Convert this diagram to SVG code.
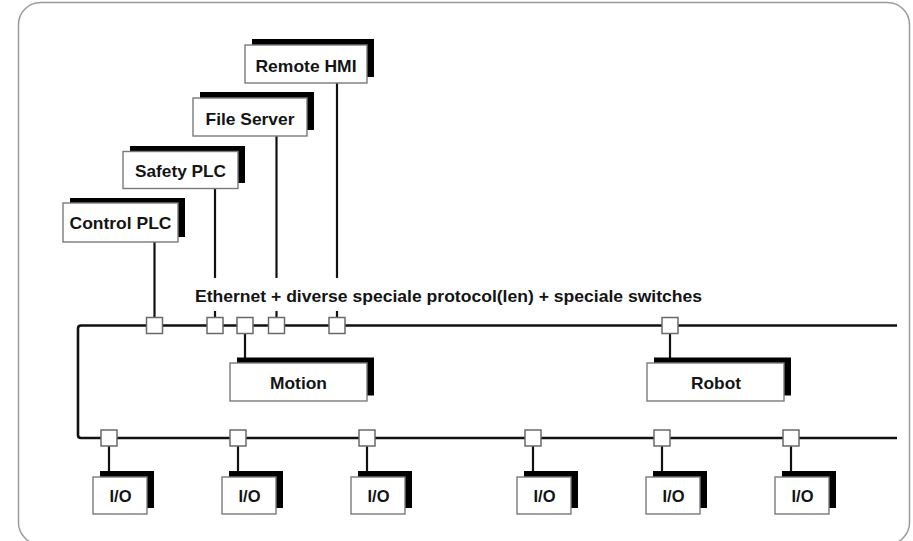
<svg xmlns="http://www.w3.org/2000/svg" width="913" height="541" viewBox="0 0 913 541">
  <style>
    .frame { fill: #ffffff; stroke: #9a9a9a; stroke-width: 1.5; }
    .bus { fill: none; stroke: #111111; stroke-width: 2.6; }
    .link { fill: none; stroke: #111111; stroke-width: 2.2; }
    .sw { fill: #ffffff; stroke: #6a6a6a; stroke-width: 1.5; }
    .shadow { fill: #000000; }
    .box { fill: #ffffff; stroke: #7a7a7a; stroke-width: 1.4; }
    .lbl { font-family: "Liberation Sans", Arial, sans-serif; font-weight: bold; font-size: 16.5px; fill: #141414; text-anchor: middle; }
    .title { font-family: "Liberation Sans", Arial, sans-serif; font-weight: bold; font-size: 16.5px; fill: #141414; }
  </style>

  <rect x="0" y="0" width="913" height="541" fill="#ffffff"/>
  <rect class="frame" x="18.5" y="2.5" width="891" height="542" rx="22" ry="22"/>

  <!-- network lines, drop links and switches -->
  <g id="connectors">
    <path class="bus" d="M897,325.5 H81 Q78,325.5 78,328.5 V435 Q78,438 81,438 H897"/>

    <line class="link" x1="154.5" y1="242" x2="154.5" y2="318"/>
    <line class="link" x1="215" y1="188" x2="215" y2="278"/>
    <line class="link" x1="215" y1="311" x2="215" y2="318"/>
    <line class="link" x1="276.5" y1="136" x2="276.5" y2="278"/>
    <line class="link" x1="276.5" y1="311" x2="276.5" y2="318"/>
    <line class="link" x1="337" y1="83" x2="337" y2="278"/>
    <line class="link" x1="337" y1="311" x2="337" y2="318"/>
    <line class="link" x1="245" y1="333" x2="245" y2="358"/>
    <line class="link" x1="670" y1="333" x2="670" y2="358"/>

    <line class="link" x1="109" y1="446" x2="109" y2="471"/>
    <line class="link" x1="238" y1="446" x2="238" y2="471"/>
    <line class="link" x1="367" y1="446" x2="367" y2="471"/>
    <line class="link" x1="533" y1="446" x2="533" y2="471"/>
    <line class="link" x1="662" y1="446" x2="662" y2="471"/>
    <line class="link" x1="791" y1="446" x2="791" y2="471"/>

    <rect class="sw" x="146.5" y="317.5" width="16" height="16"/>
    <rect class="sw" x="207" y="317.5" width="16" height="16"/>
    <rect class="sw" x="237" y="317.5" width="16" height="16"/>
    <rect class="sw" x="268.5" y="317.5" width="16" height="16"/>
    <rect class="sw" x="329" y="317.5" width="16" height="16"/>
    <rect class="sw" x="662" y="317.5" width="16" height="16"/>

    <rect class="sw" x="101" y="430" width="16" height="16"/>
    <rect class="sw" x="230" y="430" width="16" height="16"/>
    <rect class="sw" x="359" y="430" width="16" height="16"/>
    <rect class="sw" x="525" y="430" width="16" height="16"/>
    <rect class="sw" x="654" y="430" width="16" height="16"/>
    <rect class="sw" x="783" y="430" width="16" height="16"/>
  </g>

  <text class="title" x="195" y="301.5" textLength="507" lengthAdjust="spacingAndGlyphs">Ethernet + diverse speciale protocol(len) + speciale switches</text>

  <g id="remote-hmi">
    <rect class="shadow" x="252" y="39" width="122" height="38"/>
    <rect class="box" x="245" y="45" width="122" height="38"/>
    <text class="lbl" x="306" y="71.5" textLength="101" lengthAdjust="spacingAndGlyphs">Remote HMI</text>
  </g>

  <g id="file-server">
    <rect class="shadow" x="200" y="92" width="114" height="38"/>
    <rect class="box" x="193" y="98" width="114" height="38"/>
    <text class="lbl" x="250" y="125" textLength="89" lengthAdjust="spacingAndGlyphs">File Server</text>
  </g>

  <g id="safety-plc">
    <rect class="shadow" x="130" y="146" width="115" height="37"/>
    <rect class="box" x="123" y="151.5" width="115" height="37"/>
    <text class="lbl" x="180.5" y="176.5" textLength="91" lengthAdjust="spacingAndGlyphs">Safety PLC</text>
  </g>

  <g id="control-plc">
    <rect class="shadow" x="70" y="198" width="115" height="39"/>
    <rect class="box" x="63" y="203" width="115" height="39"/>
    <text class="lbl" x="120.5" y="229" textLength="102" lengthAdjust="spacingAndGlyphs">Control PLC</text>
  </g>

  <g id="motion">
    <rect class="shadow" x="237" y="357.5" width="137" height="38"/>
    <rect class="box" x="230" y="363" width="137" height="38"/>
    <text class="lbl" x="298.5" y="388.5" textLength="57" lengthAdjust="spacingAndGlyphs">Motion</text>
  </g>

  <g id="robot">
    <rect class="shadow" x="654" y="357.5" width="137" height="38"/>
    <rect class="box" x="647" y="363" width="137" height="38"/>
    <text class="lbl" x="716" y="388.5" textLength="50" lengthAdjust="spacingAndGlyphs">Robot</text>
  </g>

  <g id="io-1">
    <rect class="shadow" x="100" y="471" width="54" height="37"/>
    <rect class="box" x="93" y="477" width="54" height="37"/>
    <text class="lbl" x="120.5" y="502">I/O</text>
  </g>
  <g id="io-2">
    <rect class="shadow" x="229" y="471" width="54" height="37"/>
    <rect class="box" x="222" y="477" width="54" height="37"/>
    <text class="lbl" x="249.5" y="502">I/O</text>
  </g>
  <g id="io-3">
    <rect class="shadow" x="358" y="471" width="54" height="37"/>
    <rect class="box" x="351" y="477" width="54" height="37"/>
    <text class="lbl" x="378.5" y="502">I/O</text>
  </g>
  <g id="io-4">
    <rect class="shadow" x="524" y="471" width="54" height="37"/>
    <rect class="box" x="517" y="477" width="54" height="37"/>
    <text class="lbl" x="544.5" y="502">I/O</text>
  </g>
  <g id="io-5">
    <rect class="shadow" x="653" y="471" width="54" height="37"/>
    <rect class="box" x="646" y="477" width="54" height="37"/>
    <text class="lbl" x="673.5" y="502">I/O</text>
  </g>
  <g id="io-6">
    <rect class="shadow" x="782" y="471" width="54" height="37"/>
    <rect class="box" x="775" y="477" width="54" height="37"/>
    <text class="lbl" x="802.5" y="502">I/O</text>
  </g>
</svg>
